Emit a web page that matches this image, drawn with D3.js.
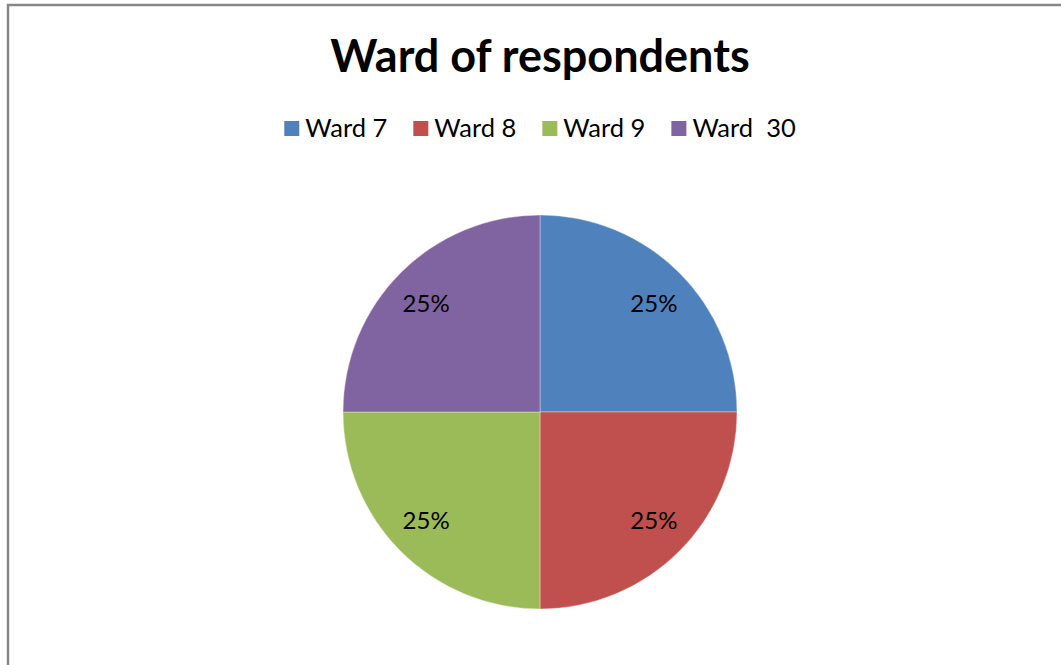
<!DOCTYPE html>
<html>
<head>
<meta charset="utf-8">
<script src="https://cdn.jsdelivr.net/npm/d3@7"></script>
<style>
  html, body { margin: 0; padding: 0; background: #fff; }
  svg { display: block; }
</style>
</head>
<body>
<svg id="chart" width="1061" height="665"></svg>
<script>
const title = "Ward of respondents";
const categories = ["Ward 7", "Ward 8", "Ward 9", "Ward  30"];
const values = [25, 25, 25, 25];
const colors = ["#4F81BD", "#C0504D", "#9BBB59", "#8064A2"];

const W = 1061, H = 665;
const svg = d3.select("#chart");
const font = "Lato, 'Open Sans', sans-serif";

// chart border (only top & left visible)
svg.append("rect")
  .attr("x", 8).attr("y", 5)
  .attr("width", W + 50).attr("height", H + 50)
  .attr("fill", "#fff")
  .attr("stroke", "#878787").attr("stroke-width", 2.5);

const cx = 540, cy = 412, R = 197;

// title
svg.append("text")
  .attr("x", cx).attr("y", 72)
  .attr("text-anchor", "middle")
  .attr("font-family", font).attr("font-weight", "bold")
  .attr("font-size", 45).attr("fill", "#000")
  .text(title);

// legend
const legend = svg.append("g");
const items = legend.selectAll("g").data(categories).join("g");
items.append("rect")
  .attr("width", 15).attr("height", 15)
  .attr("y", 121)
  .attr("fill", (d, i) => colors[i]);
items.append("text")
  .attr("x", 21).attr("y", 137)
  .attr("font-family", font).attr("font-size", 25.5).attr("fill", "#000")
  .attr("xml:space", "preserve")
  .style("white-space", "pre")
  .text(d => d);
let xpos = 0;
items.each(function () {
  const g = d3.select(this);
  g.attr("transform", `translate(${xpos},0)`);
  const tw = g.select("text").node().getComputedTextLength();
  xpos += 21 + tw + 26;
});
const totalW = xpos - 26;
legend.attr("transform", `translate(${cx - totalW / 2},0)`);

// pie
const pie = d3.pie().sort(null).value(d => d);
const arcs = pie(values);
const arc = d3.arc().innerRadius(0).outerRadius(R);
const labelArc = d3.arc().innerRadius(161).outerRadius(161);
const total = d3.sum(values);

const g = svg.append("g").attr("transform", `translate(${cx},${cy})`);
g.selectAll("path").data(arcs).join("path")
  .attr("d", arc)
  .attr("fill", (d, i) => colors[i])
  .attr("stroke", "rgba(255,255,255,0.35)")
  .attr("stroke-width", 1);

g.selectAll("text.lbl").data(arcs).join("text")
  .attr("class", "lbl")
  .attr("transform", d => {
    const c = labelArc.centroid(d);
    return `translate(${c[0]},${c[1] * 0.955})`;
  })
  .attr("text-anchor", "middle")
  .attr("dy", "0.36em")
  .attr("font-family", font).attr("font-size", 24).attr("fill", "#000")
  .text(d => Math.round(d.data / total * 100) + "%");
</script>
</body>
</html>
